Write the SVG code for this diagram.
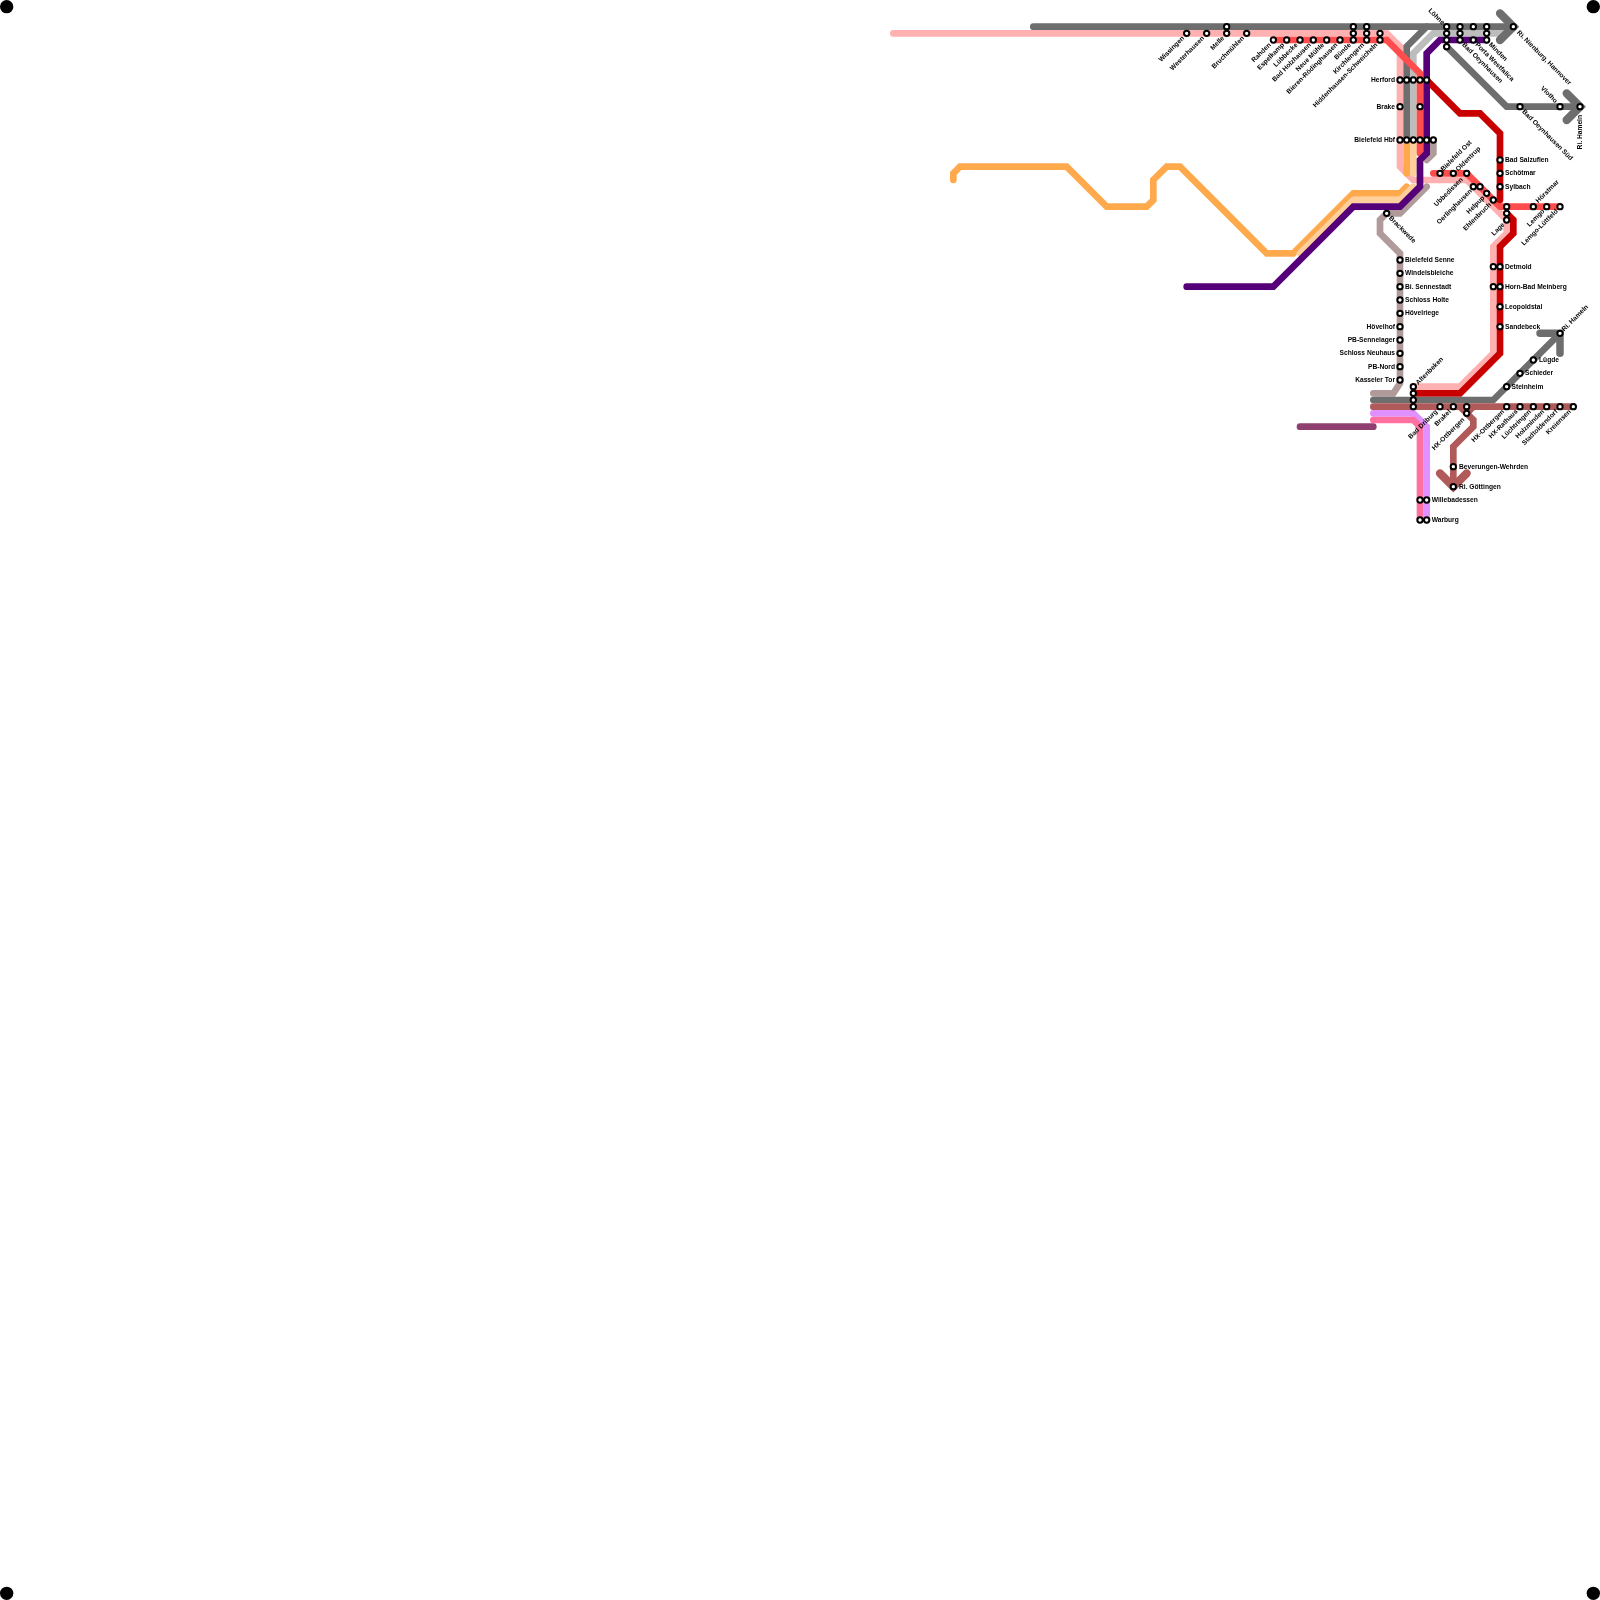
<svg xmlns="http://www.w3.org/2000/svg" width="1600" height="1600" viewBox="0 0 1600 1600">
<style>
.l{fill:none;stroke-width:6.67;stroke-linecap:round;stroke-linejoin:miter}
.a{fill:none;stroke-width:8.3;stroke-linecap:round;stroke-linejoin:miter}
.h{fill:none;stroke-width:7.5;stroke-linecap:round;stroke-linejoin:miter}
.s{fill:#fff;stroke:#000;stroke-width:2}
text{font-family:"Liberation Sans",Arial,sans-serif;font-size:6.67px;font-weight:bold;fill:#000}
.e{text-anchor:end}
</style>
<rect width="1600" height="1600" fill="#fff"/>
<circle cx="6.67" cy="6.67" r="6.67"/><circle cx="1593.33" cy="6.67" r="6.67"/><circle cx="6.67" cy="1593.33" r="6.67"/><circle cx="1593.33" cy="1593.33" r="6.67"/>
<g id="connectors">
<path class="l" stroke="#ffb0b0" d="M893.33 33.33H1386.67L1400 46.67V166.67L1413.33 180H1466.67L1506.67 220V233.33L1493.33 246.67V353.33L1460 386.67H1413.33"/>
<path class="l" stroke="#6e6e6e" d="M1033.33 26.67H1513.33"/>
<path class="l" stroke="#6e6e6e" d="M1426.67 26.67L1406.67 46.67V140"/>
<path class="l" stroke="#bdbdbd" d="M1506.67 33.33H1433.33L1413.33 53.33V140"/>
<path class="l" stroke="#6e6e6e" d="M1446.67 46.67L1506.67 106.67H1580"/>
<path class="a" stroke="#6e6e6e" d="M1500 13.33L1513.33 26.67L1500 40M1566.67 93.33L1580 106.67L1566.67 120"/>
<path class="l" stroke="#ffa94d" d="M953.33 180V173.33L960 166.67H1066.67L1106.67 206.67H1146.67L1153.33 200V180L1166.67 166.67H1180L1266.67 253.33H1293.33L1353.33 193.33H1400L1406.67 186.67"/>
<path class="l" stroke="#ffa94d" d="M1406.67 140V173.33"/>
<path class="l" stroke="#ffd09b" d="M1300 253.33L1353.33 200H1400L1413.33 186.67M1413.33 140V173.33"/>
<path class="l" stroke="#b09a9a" d="M1433.33 140V153.33L1426.67 160M1426.67 186.67L1400 213.33H1386.67L1380 220V233.33L1400 253.33V383.33L1393.33 393.33H1373.33"/>
<path class="l" stroke="#ff4d4d" d="M1273.33 40H1386.67L1420 73.33V153.33"/>
<path class="l" stroke="#ff4d4d" d="M1433.33 173.33H1466.67L1500 206.67H1560"/>
<path class="l" stroke="#c80000" d="M1426.67 80L1460 113.33H1480L1500 133.33V200M1506.67 213.33L1513.33 220V233.33L1500 246.67V353.33L1460 393.33H1413.33"/>
<path class="l" stroke="#550078" d="M1186.67 286.67H1273.33L1353.33 206.67H1400L1420 186.67V160L1426.67 153.33V53.33L1440 40H1486.67"/>
<path class="l" stroke="#6e6e6e" d="M1373.33 400H1493.33L1560 333.33"/>
<path class="h" stroke="#6e6e6e" d="M1540 333.33H1560V353.33"/>
<path class="l" stroke="#b05a5a" d="M1373.33 406.67H1573.33M1460 406.67L1473.33 420V426.67L1453.33 446.67V486.67M1473.33 406.67L1466.67 413.33"/>
<path class="a" stroke="#b05a5a" d="M1440 473.33L1453.33 486.67L1466.67 473.33"/>
<path class="l" stroke="#e090ff" d="M1373.33 413.33H1413.33L1426.67 426.67V520"/>
<path class="l" stroke="#ff70a0" d="M1373.33 420H1413.33L1420 426.67V520"/>
<path class="l" stroke="#904070" d="M1300 426.67H1373.33"/>
</g>
<g id="stations">
<circle class="s" cx="1186.67" cy="33.33" r="2.67"/><circle class="s" cx="1206.67" cy="33.33" r="2.67"/><circle class="s" cx="1226.67" cy="33.33" r="2.67"/><circle class="s" cx="1226.67" cy="26.67" r="2.67"/><circle class="s" cx="1246.67" cy="33.33" r="2.67"/>
<circle class="s" cx="1273.33" cy="40" r="2.67"/><circle class="s" cx="1286.67" cy="40" r="2.67"/><circle class="s" cx="1300" cy="40" r="2.67"/><circle class="s" cx="1313.33" cy="40" r="2.67"/><circle class="s" cx="1326.67" cy="40" r="2.67"/><circle class="s" cx="1340" cy="40" r="2.67"/>
<circle class="s" cx="1353.33" cy="40" r="2.67"/><circle class="s" cx="1353.33" cy="33.33" r="2.67"/><circle class="s" cx="1353.33" cy="26.67" r="2.67"/>
<circle class="s" cx="1366.67" cy="40" r="2.67"/><circle class="s" cx="1366.67" cy="33.33" r="2.67"/><circle class="s" cx="1366.67" cy="26.67" r="2.67"/>
<circle class="s" cx="1380" cy="40" r="2.67"/><circle class="s" cx="1380" cy="33.33" r="2.67"/>
<circle class="s" cx="1446.67" cy="26.67" r="2.67"/><circle class="s" cx="1446.67" cy="33.33" r="2.67"/><circle class="s" cx="1446.67" cy="40" r="2.67"/><circle class="s" cx="1446.67" cy="46.67" r="2.67"/>
<circle class="s" cx="1460" cy="26.67" r="2.67"/><circle class="s" cx="1460" cy="33.33" r="2.67"/><circle class="s" cx="1460" cy="40" r="2.67"/>
<circle class="s" cx="1473.33" cy="26.67" r="2.67"/><circle class="s" cx="1473.33" cy="40" r="2.67"/>
<circle class="s" cx="1486.67" cy="26.67" r="2.67"/><circle class="s" cx="1486.67" cy="33.33" r="2.67"/><circle class="s" cx="1486.67" cy="40" r="2.67"/>
<circle class="s" cx="1513.33" cy="26.67" r="2.67"/><circle class="s" cx="1520" cy="106.67" r="2.67"/><circle class="s" cx="1560" cy="106.67" r="2.67"/><circle class="s" cx="1580" cy="106.67" r="2.67"/>
<circle class="s" cx="1400" cy="80" r="2.67"/><circle class="s" cx="1406.67" cy="80" r="2.67"/><circle class="s" cx="1413.33" cy="80" r="2.67"/><circle class="s" cx="1420" cy="80" r="2.67"/><circle class="s" cx="1426.67" cy="80" r="2.67"/>
<circle class="s" cx="1400" cy="106.67" r="2.67"/><circle class="s" cx="1420" cy="106.67" r="2.67"/>
<circle class="s" cx="1400" cy="140" r="2.67"/><circle class="s" cx="1406.67" cy="140" r="2.67"/><circle class="s" cx="1413.33" cy="140" r="2.67"/><circle class="s" cx="1420" cy="140" r="2.67"/><circle class="s" cx="1426.67" cy="140" r="2.67"/><circle class="s" cx="1433.33" cy="140" r="2.67"/>
<circle class="s" cx="1440" cy="173.33" r="2.67"/><circle class="s" cx="1453.33" cy="173.33" r="2.67"/><circle class="s" cx="1466.67" cy="173.33" r="2.67"/>
<circle class="s" cx="1473.33" cy="186.67" r="2.67"/><circle class="s" cx="1480" cy="186.67" r="2.67"/><circle class="s" cx="1486.67" cy="193.33" r="2.67"/><circle class="s" cx="1493.33" cy="200" r="2.67"/>
<circle class="s" cx="1500" cy="160" r="2.67"/><circle class="s" cx="1500" cy="173.33" r="2.67"/><circle class="s" cx="1500" cy="186.67" r="2.67"/>
<circle class="s" cx="1506.67" cy="206.67" r="2.67"/><circle class="s" cx="1506.67" cy="213.33" r="2.67"/><circle class="s" cx="1506.67" cy="220" r="2.67"/>
<circle class="s" cx="1533.33" cy="206.67" r="2.67"/><circle class="s" cx="1546.67" cy="206.67" r="2.67"/><circle class="s" cx="1560" cy="206.67" r="2.67"/>
<circle class="s" cx="1386.67" cy="213.33" r="2.67"/>
<circle class="s" cx="1400" cy="260" r="2.67"/><circle class="s" cx="1400" cy="273.33" r="2.67"/><circle class="s" cx="1400" cy="286.67" r="2.67"/><circle class="s" cx="1400" cy="300" r="2.67"/><circle class="s" cx="1400" cy="313.33" r="2.67"/><circle class="s" cx="1400" cy="326.67" r="2.67"/><circle class="s" cx="1400" cy="340" r="2.67"/><circle class="s" cx="1400" cy="353.33" r="2.67"/><circle class="s" cx="1400" cy="366.67" r="2.67"/><circle class="s" cx="1400" cy="380" r="2.67"/>
<circle class="s" cx="1493.33" cy="266.67" r="2.67"/><circle class="s" cx="1500" cy="266.67" r="2.67"/><circle class="s" cx="1493.33" cy="286.67" r="2.67"/><circle class="s" cx="1500" cy="286.67" r="2.67"/><circle class="s" cx="1500" cy="306.67" r="2.67"/><circle class="s" cx="1500" cy="326.67" r="2.67"/>
<circle class="s" cx="1560" cy="333.33" r="2.67"/><circle class="s" cx="1533.33" cy="360" r="2.67"/><circle class="s" cx="1520" cy="373.33" r="2.67"/><circle class="s" cx="1506.67" cy="386.67" r="2.67"/>
<circle class="s" cx="1413.33" cy="386.67" r="2.67"/><circle class="s" cx="1413.33" cy="393.33" r="2.67"/><circle class="s" cx="1413.33" cy="400" r="2.67"/><circle class="s" cx="1413.33" cy="406.67" r="2.67"/>
<circle class="s" cx="1440" cy="406.67" r="2.67"/><circle class="s" cx="1453.33" cy="406.67" r="2.67"/><circle class="s" cx="1466.67" cy="406.67" r="2.67"/><circle class="s" cx="1466.67" cy="413.33" r="2.67"/>
<circle class="s" cx="1506.67" cy="406.67" r="2.67"/><circle class="s" cx="1520" cy="406.67" r="2.67"/><circle class="s" cx="1533.33" cy="406.67" r="2.67"/><circle class="s" cx="1546.67" cy="406.67" r="2.67"/><circle class="s" cx="1560" cy="406.67" r="2.67"/><circle class="s" cx="1573.33" cy="406.67" r="2.67"/>
<circle class="s" cx="1453.33" cy="466.67" r="2.67"/><circle class="s" cx="1453.33" cy="486.67" r="2.67"/>
<circle class="s" cx="1420" cy="500" r="2.67"/><circle class="s" cx="1426.67" cy="500" r="2.67"/><circle class="s" cx="1420" cy="520" r="2.67"/><circle class="s" cx="1426.67" cy="520" r="2.67"/>
</g>
<g id="labels" opacity="0.999">
<text class="e" transform="translate(1184.67 38.6) rotate(-45)">Wissingen</text>
<text class="e" transform="translate(1204.67 38.6) rotate(-45)">Westerhausen</text>
<text class="e" transform="translate(1224.67 38.6) rotate(-45)">Melle</text>
<text class="e" transform="translate(1244.67 38.6) rotate(-45)">Bruchmühlen</text>
<text class="e" transform="translate(1271.33 45.3) rotate(-45)">Rahden</text>
<text class="e" transform="translate(1284.67 45.3) rotate(-45)">Espelkamp</text>
<text class="e" transform="translate(1298 45.3) rotate(-45)">Lübbecke</text>
<text class="e" transform="translate(1311.33 45.3) rotate(-45)">Bad Holzhausen</text>
<text class="e" transform="translate(1324.67 45.3) rotate(-45)">Neue Mühle</text>
<text class="e" transform="translate(1338 45.3) rotate(-45)">Bieren-Rödinghausen</text>
<text class="e" transform="translate(1351.33 45.3) rotate(-45)">Bünde</text>
<text class="e" transform="translate(1364.67 45.3) rotate(-45)">Kirchlengern</text>
<text class="e" transform="translate(1378 45.3) rotate(-45)">Hiddenhausen-Schweicheln</text>
<text class="e" transform="translate(1442 25) rotate(45)">Löhne</text>
<text transform="translate(1488.4 45) rotate(45)">Minden</text>
<text transform="translate(1475 45) rotate(45)">Porta Westfalica</text>
<text transform="translate(1461.7 45) rotate(45)">Bad Oeynhausen</text>
<text transform="translate(1516.5 33) rotate(45)">Ri. Nienburg, Hannover</text>
<text transform="translate(1521.7 112) rotate(45)">Bad Oeynhausen Süd</text>
<text class="e" transform="translate(1555 103.3) rotate(45)">Vlotho</text>
<text class="e" transform="translate(1582.3 115) rotate(-90)">Ri. Hameln</text>
<text class="e" x="1395" y="82">Herford</text>
<text class="e" x="1395" y="108.7">Brake</text>
<text class="e" x="1395" y="142">Bielefeld Hbf</text>
<text transform="translate(1443.3 171.6) rotate(-45)">Bielefeld Ost</text>
<text transform="translate(1458.3 171.6) rotate(-45)">Oldentrup</text>
<text class="e" transform="translate(1463.3 180) rotate(-45)">Ubbedissen</text>
<text class="e" transform="translate(1472.3 191.6) rotate(-45)">Oerlinghausen</text>
<text class="e" transform="translate(1485 198.3) rotate(-45)">Helpup</text>
<text class="e" transform="translate(1491.6 205) rotate(-45)">Ehlenbruch</text>
<text class="e" transform="translate(1505 225) rotate(-45)">Lage</text>
<text x="1505" y="162">Bad Salzuflen</text>
<text x="1505" y="175.3">Schötmar</text>
<text x="1505" y="188.7">Sylbach</text>
<text transform="translate(1538.3 203.3) rotate(-45)">Hörstmar</text>
<text class="e" transform="translate(1545 211.6) rotate(-45)">Lemgo</text>
<text class="e" transform="translate(1558.3 211.6) rotate(-45)">Lemgo-Lüttfeld</text>
<text transform="translate(1388.5 218.5) rotate(45)">Brackwede</text>
<text x="1405" y="262">Bielefeld Senne</text>
<text x="1405" y="275.3">Windelsbleiche</text>
<text x="1405" y="288.7">Bi. Sennestadt</text>
<text x="1405" y="302">Schloss Holte</text>
<text x="1405" y="315.3">Hövelriege</text>
<text class="e" x="1395" y="328.7">Hövelhof</text>
<text class="e" x="1395" y="342">PB-Sennelager</text>
<text class="e" x="1395" y="355.3">Schloss Neuhaus</text>
<text class="e" x="1395" y="368.7">PB-Nord</text>
<text class="e" x="1395" y="382">Kasseler Tor</text>
<text transform="translate(1418.3 385) rotate(-45)">Altenbeken</text>
<text x="1505" y="268.7">Detmold</text>
<text x="1505" y="288.7">Horn-Bad Meinberg</text>
<text x="1505" y="308.7">Leopoldstal</text>
<text x="1505" y="328.7">Sandebeck</text>
<text transform="translate(1564.3 331.6) rotate(-45)">Ri. Hameln</text>
<text x="1539" y="362">Lügde</text>
<text x="1525" y="375.3">Schieder</text>
<text x="1511.5" y="388.7">Steinheim</text>
<text class="e" transform="translate(1438 412) rotate(-45)">Bad Driburg</text>
<text class="e" transform="translate(1451.3 412) rotate(-45)">Brakel</text>
<text class="e" transform="translate(1465 420) rotate(-45)">HX-Ottbergen</text>
<text class="e" transform="translate(1504.67 412) rotate(-45)">HX-Ottbergen</text>
<text class="e" transform="translate(1518 412) rotate(-45)">HX-Rathaus</text>
<text class="e" transform="translate(1531.33 412) rotate(-45)">Lüchtringen</text>
<text class="e" transform="translate(1544.67 412) rotate(-45)">Holzminden</text>
<text class="e" transform="translate(1558 412) rotate(-45)">Stadtoldendorf</text>
<text class="e" transform="translate(1571.33 412) rotate(-45)">Kreiensen</text>
<text x="1459" y="468.7">Beverungen-Wehrden</text>
<text x="1459" y="488.7">Ri. Göttingen</text>
<text x="1431.67" y="502">Willebadessen</text>
<text x="1431.67" y="522">Warburg</text>
</g>
</svg>
